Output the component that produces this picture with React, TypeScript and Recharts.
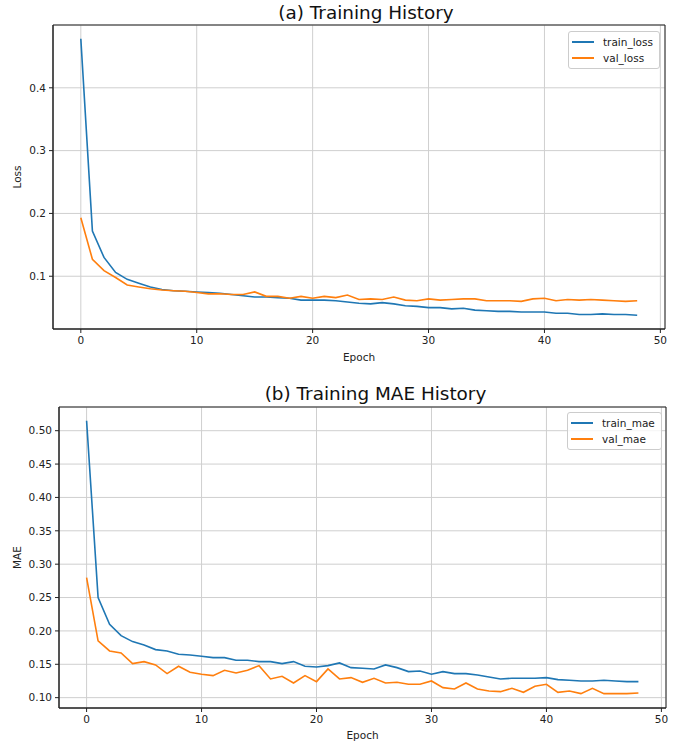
import React from 'react'
import {
  LineChart,
  Line,
  XAxis,
  YAxis,
  CartesianGrid,
  Legend,
  ReferenceArea
} from 'recharts'

const trainLoss = [
  0.478, 0.172, 0.130, 0.106, 0.095, 0.089, 0.083, 0.079, 0.077, 0.076,
  0.075, 0.074, 0.073, 0.071, 0.069, 0.067, 0.067, 0.066, 0.065, 0.062,
  0.062, 0.062, 0.061, 0.059, 0.057, 0.056, 0.058, 0.056, 0.053, 0.052,
  0.050, 0.050, 0.048, 0.049, 0.046, 0.045, 0.044, 0.044, 0.043, 0.043,
  0.043, 0.041, 0.041, 0.039, 0.039, 0.040, 0.039, 0.039, 0.038
]
const valLoss = [
  0.193, 0.127, 0.109, 0.098, 0.086, 0.083, 0.080, 0.078, 0.077, 0.076,
  0.074, 0.072, 0.072, 0.071, 0.071, 0.075, 0.068, 0.068, 0.065, 0.068,
  0.065, 0.068, 0.066, 0.070, 0.063, 0.064, 0.063, 0.067, 0.062, 0.061,
  0.064, 0.062, 0.063, 0.064, 0.064, 0.061, 0.061, 0.061, 0.060, 0.064,
  0.065, 0.061, 0.063, 0.062, 0.063, 0.062, 0.061, 0.060, 0.061
]
const trainMae = [
  0.515, 0.250, 0.210, 0.193, 0.184, 0.179, 0.172, 0.170, 0.165, 0.164,
  0.162, 0.160, 0.160, 0.156, 0.156, 0.154, 0.154, 0.151, 0.154, 0.147,
  0.146, 0.148, 0.152, 0.145, 0.144, 0.143, 0.149, 0.145, 0.139, 0.140,
  0.135, 0.139, 0.136, 0.136, 0.134, 0.131, 0.128, 0.129, 0.129, 0.129,
  0.130, 0.127, 0.126, 0.125, 0.125, 0.126, 0.125, 0.124, 0.124
]
const valMae = [
  0.280, 0.185, 0.170, 0.167, 0.151, 0.154, 0.149, 0.136, 0.147, 0.138,
  0.135, 0.133, 0.141, 0.137, 0.141, 0.148, 0.128, 0.132, 0.122, 0.133,
  0.124, 0.143, 0.128, 0.130, 0.123, 0.129, 0.122, 0.123, 0.120, 0.120,
  0.125, 0.115, 0.113, 0.122, 0.113, 0.110, 0.109, 0.114, 0.108, 0.117,
  0.120, 0.108, 0.110, 0.106, 0.114, 0.106, 0.106, 0.106, 0.107
]

const epochTicks = [0, 10, 20, 30, 40, 50]
const lossTicks = [0.1, 0.2, 0.3, 0.4]
const maeTicks = [0.1, 0.15, 0.2, 0.25, 0.3, 0.35, 0.4, 0.45, 0.5]

const BLUE = '#1f77b4'
const ORANGE = '#ff7f0e'
const FONT = '"DejaVu Sans", sans-serif'
const TICK = { fontSize: 10.5, fill: '#222', fontFamily: FONT }

const lossRows = trainLoss.map((v, i) => ({ epoch: i, train_loss: v, val_loss: valLoss[i] }))
const maeRows = trainMae.map((v, i) => ({ epoch: i, train_mae: v, val_mae: valMae[i] }))

function LegendBox({ keys }: { keys: string[] }) {
  const colors = [BLUE, ORANGE]
  return (
    <div style={{
      border: '1px solid #cccccc',
      borderRadius: 3,
      background: 'rgba(255,255,255,0.8)',
      padding: '2px 6px 2px 3px',
      fontFamily: FONT,
      fontSize: 10.5,
      color: '#222'
    }}>
      {keys.map((k, i) => (
        <div key={k} style={{ display: 'flex', alignItems: 'center', height: 16 }}>
          <span style={{ display: 'inline-block', width: 22, height: 2, background: colors[i], marginRight: 9 }} />
          <span>{k}</span>
        </div>
      ))}
    </div>
  )
}

interface PanelProps {
  rows: any[]
  keys: string[]
  yTicks: number[]
  yDomain: [number, number]
  yLabel: string
  yWidth: number
  digits: number
  height: number
  top: number
  xHeight: number
  right: number
  legendLeft: number
  legendTop: number
  xLabelOffset: number
}

function Panel(p: PanelProps) {
  const xDomain: [number, number] = [-2.4, 50.4]
  return (
    <LineChart
      width={683}
      height={p.height}
      data={p.rows}
      margin={{ top: p.top, right: p.right, bottom: 0, left: 0 }}
    >
      <CartesianGrid stroke="#cfcfcf" strokeWidth={1} />
      <XAxis
        dataKey="epoch"
        type="number"
        domain={xDomain}
        ticks={epochTicks}
        height={p.xHeight}
        tickSize={4}
        tickMargin={4}
        stroke="#222"
        tick={TICK}
        label={{ value: 'Epoch', position: 'insideBottom', offset: p.xLabelOffset, style: { fontSize: 10.5, fill: '#222', fontFamily: FONT } }}
      />
      <YAxis
        type="number"
        domain={p.yDomain}
        ticks={p.yTicks}
        width={p.yWidth}
        tickSize={4}
        tickMargin={3}
        stroke="#222"
        tick={TICK}
        tickFormatter={(v: number) => v.toFixed(p.digits)}
        label={{ value: p.yLabel, angle: -90, position: 'insideLeft', offset: 17, style: { textAnchor: 'middle', fontSize: 10.5, fill: '#222', fontFamily: FONT } }}
      />
      <ReferenceArea x1={xDomain[0]} x2={xDomain[1]} y1={p.yDomain[0]} y2={p.yDomain[1]} fill="none" stroke="#222" strokeWidth={1} />
      <Line dataKey={p.keys[0]} stroke={BLUE} strokeWidth={1.6} dot={false} activeDot={false} isAnimationActive={false} />
      <Line dataKey={p.keys[1]} stroke={ORANGE} strokeWidth={1.6} dot={false} activeDot={false} isAnimationActive={false} />
      <Legend
        layout="vertical"
        align="center"
        verticalAlign="middle"
        wrapperStyle={{ left: p.legendLeft, top: p.legendTop, width: 'auto' }}
        content={() => <LegendBox keys={p.keys} />}
      />
    </LineChart>
  )
}

const titleStyle: React.CSSProperties = {
  position: 'absolute',
  fontFamily: FONT,
  fontSize: 18.4,
  color: '#111',
  whiteSpace: 'nowrap',
  transform: 'translateX(-50%)',
  lineHeight: '22px'
}

export default function App() {
  return (
    <div style={{ position: 'absolute', left: 0, top: 0, width: 683, height: 744, background: '#fff' }}>
      <div style={{ position: 'absolute', left: 0, top: 0 }}>
        <Panel
          rows={lossRows}
          keys={['train_loss', 'val_loss']}
          yTicks={lossTicks}
          yDomain={[0.016, 0.5]}
          yLabel="Loss"
          yWidth={53}
          digits={1}
          height={370}
          top={25}
          xHeight={41}
          right={18}
          legendLeft={568}
          legendTop={31}
          xLabelOffset={9}
        />
      </div>
      <div style={{ position: 'absolute', left: 0, top: 380 }}>
        <Panel
          rows={maeRows}
          keys={['train_mae', 'val_mae']}
          yTicks={maeTicks}
          yDomain={[0.0845, 0.5355]}
          yLabel="MAE"
          yWidth={59}
          digits={2}
          height={364}
          top={27}
          xHeight={36}
          right={17}
          legendLeft={567}
          legendTop={32}
          xLabelOffset={5}
        />
      </div>
      <div style={{ ...titleStyle, left: 366, top: 2 }}>(a) Training History</div>
      <div style={{ ...titleStyle, left: 375.5, top: 383 }}>(b) Training MAE History</div>
    </div>
  )
}
